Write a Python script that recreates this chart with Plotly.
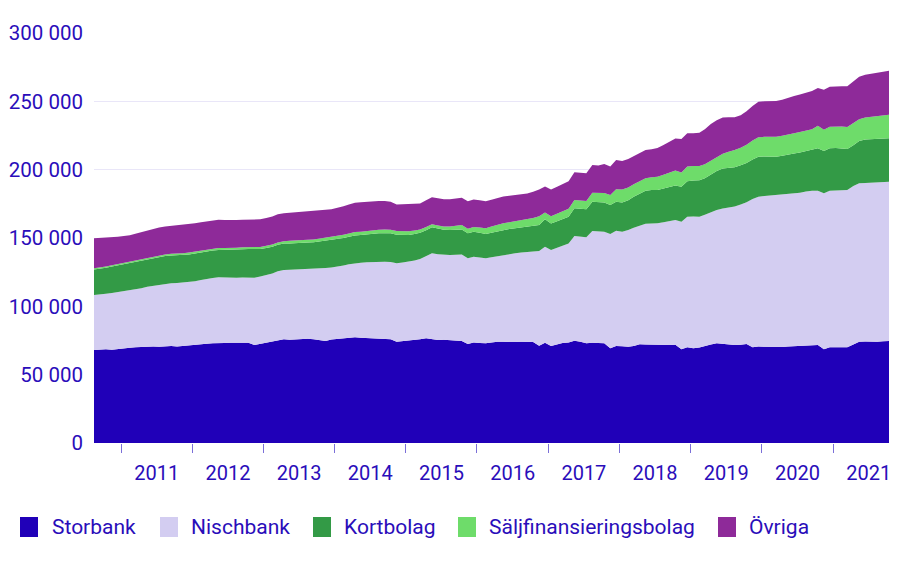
import plotly.graph_objects as go

# ---------------- data (thousands) ----------------
n_months = 135  # mid-month observations, Aug 2010 .. Oct 2021
dates = []
y, m = 2010, 8
for _ in range(n_months):
    dates.append(f"{y}-{m:02d}-15")
    m += 1
    if m > 12:
        m = 1
        y += 1

storbank = [
    68.0, 68.3, 68.6, 68.2, 68.8, 69.4, 69.7, 70.0, 70.3, 70.2, 70.6, 70.4,
    70.8, 71.0, 70.7, 71.0, 71.2, 71.8, 72.3, 72.6, 73.0, 72.8, 73.1, 73.3,
    73.2, 73.6, 73.4, 71.7, 72.6, 73.4, 74.0, 75.2, 75.9, 75.6, 75.8, 76.1,
    76.3, 75.9, 75.4, 74.6, 75.8, 76.2, 76.8, 77.2, 77.3, 77.0, 76.7, 76.4,
    76.2, 75.8, 75.9, 74.1, 74.5, 74.6, 75.2, 75.9, 76.6, 76.0, 75.4, 75.5,
    75.1, 74.9, 74.6, 72.4, 73.6, 73.2, 73.0, 73.6, 74.1, 74.0, 73.8, 73.9,
    74.0, 73.8, 73.9, 71.2, 73.4, 71.0, 72.3, 73.2, 73.6, 74.9, 74.0, 73.0,
    73.3, 73.2, 73.0, 69.3, 71.0, 70.8, 70.5, 71.0, 72.2, 72.0, 71.8, 71.7,
    71.9, 71.7, 71.8, 68.6, 70.0, 69.3, 69.8, 70.6, 72.0, 73.0, 72.4, 72.0,
    71.7, 71.8, 72.4, 70.0, 70.6, 70.4, 70.2, 70.0, 70.3, 70.6, 70.9, 71.0,
    71.2, 71.5, 71.7, 68.6, 70.0, 70.0, 69.9, 70.0, 72.0, 74.1, 74.3, 74.1,
    74.1, 74.4, 74.6,
]

nischbank = [
    40.3, 40.3, 40.6, 41.6, 41.7, 41.6, 41.7, 42.3, 42.9, 44.1, 44.4, 45.4,
    45.5, 45.8, 46.3, 46.3, 46.4, 46.6, 47.0, 47.6, 47.8, 48.4, 47.9, 47.5,
    47.7, 47.5, 47.8, 49.3, 49.2, 49.5, 50.1, 50.4, 50.7, 51.1, 51.1, 50.9,
    50.7, 51.2, 52.2, 53.4, 52.6, 52.8, 53.0, 53.6, 54.3, 54.9, 55.5, 56.1,
    56.5, 56.8, 56.5, 57.4, 57.5, 58.1, 58.4, 58.7, 60.0, 62.8, 62.8, 62.1,
    62.4, 62.8, 63.4, 62.7, 62.7, 62.6, 62.1, 62.4, 62.7, 63.6, 64.4, 64.9,
    65.4, 66.2, 66.3, 69.3, 70.2, 70.2, 70.5, 71.2, 72.4, 76.6, 77.0, 77.5,
    81.8, 81.6, 81.6, 83.6, 84.3, 83.8, 85.3, 86.5, 87.0, 88.5, 88.9, 89.1,
    89.7, 90.7, 91.4, 93.3, 95.6, 96.4, 95.8, 96.4, 96.8, 97.5, 99.1, 100.3,
    101.3, 102.7, 103.7, 108.5, 109.6, 110.4, 111.0, 111.5, 111.5, 111.6, 111.8, 112.2,
    112.8, 113.1, 112.9, 114.1, 114.6, 114.8, 115.1, 115.1, 116.0, 115.9, 116.0, 116.5,
    116.7, 116.6, 116.6,
]

kortbolag = [
    18.7, 18.8, 19.0, 19.3, 19.5, 19.8, 20.1, 20.2, 20.3, 20.1, 20.3, 20.4,
    20.5, 20.4, 20.3, 20.4, 20.4, 20.3, 20.2, 20.1, 20.0, 20.1, 20.3, 20.4,
    20.5, 20.6, 20.7, 20.7, 20.2, 19.8, 19.5, 19.4, 19.3, 19.3, 19.5, 19.6,
    19.7, 19.8, 19.9, 20.0, 20.0, 20.1, 20.2, 20.2, 20.3, 20.3, 20.5, 20.7,
    20.8, 20.9, 21.0, 20.8, 20.2, 19.5, 19.3, 19.2, 19.1, 19.0, 18.7, 18.4,
    18.3, 18.3, 18.3, 18.3, 18.2, 18.0, 17.8, 17.9, 18.1, 18.3, 18.3, 18.3,
    18.3, 18.3, 18.6, 19.0, 20.1, 19.5, 19.5, 19.5, 19.5, 20.3, 20.3, 20.5,
    21.5, 21.5, 21.3, 21.2, 21.3, 21.3, 21.8, 22.6, 23.4, 24.0, 24.4, 24.4,
    24.7, 25.0, 25.3, 25.6, 26.0, 26.3, 26.6, 26.8, 27.6, 28.5, 29.3, 29.0,
    28.8, 28.7, 28.8, 29.0, 29.3, 28.8, 28.4, 28.0, 28.4, 29.0, 29.2, 29.4,
    29.6, 29.8, 31.0, 31.0, 31.0, 31.0, 30.5, 30.0, 29.8, 31.0, 31.7, 31.7,
    31.7, 31.7, 31.7,
]

saljfin = [
    0.8, 0.8, 0.9, 0.9, 0.9, 1.0, 1.0, 1.0, 1.1, 1.1, 1.1, 1.1,
    1.2, 1.2, 1.2, 1.2, 1.3, 1.3, 1.3, 1.3, 1.4, 1.4, 1.4, 1.4,
    1.4, 1.5, 1.5, 1.5, 1.5, 1.6, 1.6, 1.7, 1.8, 1.9, 1.9, 2.0,
    2.0, 2.0, 2.1, 2.1, 2.2, 2.2, 2.3, 2.3, 2.4, 2.4, 2.5, 2.5,
    2.6, 2.7, 2.7, 2.8, 2.8, 2.7, 2.6, 2.5, 2.4, 2.3, 2.3, 2.4,
    2.6, 2.9, 3.2, 3.4, 3.6, 3.9, 4.2, 4.5, 4.8, 4.9, 5.0, 5.1,
    5.2, 5.3, 5.8, 6.4, 4.9, 5.2, 5.4, 5.5, 5.9, 6.0, 6.0, 6.1,
    6.5, 6.8, 7.1, 7.3, 9.0, 9.5, 9.4, 9.3, 9.3, 9.3, 9.4, 9.6,
    10.0, 10.4, 10.8, 10.5, 10.8, 10.7, 10.4, 10.2, 10.3, 10.5, 10.8, 11.8,
    12.5, 12.9, 13.3, 13.8, 14.2, 14.4, 14.5, 14.5, 14.6, 14.7, 14.8, 14.9,
    15.0, 15.1, 16.5, 15.5, 15.8, 15.9, 16.0, 16.2, 16.3, 15.9, 16.2, 16.5,
    16.8, 17.0, 17.3,
]

ovriga = [
    22.0, 21.8, 21.2, 20.6, 20.0, 19.6, 19.5, 19.6, 19.8, 20.0, 20.2, 20.4,
    20.5, 20.6, 20.6, 20.7, 20.7, 20.8, 20.8, 20.7, 20.7, 20.6, 20.5, 20.4,
    20.3, 20.2, 20.1, 20.0, 20.2, 20.3, 20.5, 20.6, 20.5, 20.5, 20.4, 20.5,
    20.5, 20.6, 20.6, 20.5, 20.5, 20.8, 21.0, 21.3, 21.5, 21.5, 21.3, 21.2,
    21.0, 20.8, 20.4, 19.5, 19.8, 19.8, 19.6, 19.0, 19.6, 19.8, 19.9, 20.0,
    20.0, 20.0, 20.0, 20.0, 20.0, 19.9, 19.8, 19.6, 19.5, 19.5, 19.4, 19.3,
    19.2, 19.0, 19.2, 19.5, 19.1, 19.5, 19.8, 20.0, 20.2, 20.3, 20.3, 20.2,
    20.3, 20.0, 21.2, 21.0, 21.5, 21.0, 20.8, 20.6, 20.5, 20.5, 20.5, 21.0,
    21.8, 22.6, 23.5, 24.4, 24.2, 24.0, 24.5, 25.5, 26.8, 26.6, 26.5, 25.2,
    24.0, 23.8, 24.5, 25.2, 26.0, 26.1, 26.2, 26.3, 26.4, 26.8, 27.2, 27.5,
    27.8, 28.0, 27.6, 29.3, 29.3, 29.4, 29.6, 29.8, 30.4, 31.0, 31.2, 31.5,
    31.8, 32.0, 32.2,
]

series_names = ["Storbank", "Nischbank", "Kortbolag", "Säljfinansieringsbolag", "Övriga"]
series_values = [storbank, nischbank, kortbolag, saljfin, ovriga]
series_colors = ["#2000B8", "#D3CDF1", "#339A46", "#6EDC6A", "#8E2A99"]

y_tick_vals = [0, 50, 100, 150, 200, 250, 300]
y_tick_text = ["0", "50 000", "100 000", "150 000", "200 000", "250 000", "300 000"]

TEXT = "#2A0DBA"
FONT = "Roboto"

fig = go.Figure()
for name, vals, col in zip(series_names, series_values, series_colors):
    fig.add_trace(go.Scatter(
        x=dates, y=vals, name=name, stackgroup="one", mode="lines",
        line=dict(width=0, color=col), fillcolor=col, showlegend=False,
        hoverinfo="skip",
    ))

# ---------------- layout ----------------
# the page body adds an 8px offset; size the figure so the plot lands where the reference has it
OFF = 8
W, H = 900 - OFF, 570 - OFF
ML, MR, MT, MB = 94 - OFF, 11, 33 - OFF, 127
PW, PH = W - ML - MR, H - MT - MB

def px_x(px):
    # screen pixel -> paper coordinate
    return (px - OFF - ML) / PW

def px_y(py):
    return (H - MB - (py - OFF)) / PH

fig.update_layout(
    width=W, height=H,
    margin=dict(l=ML, r=MR, t=MT, b=MB, pad=0, autoexpand=False),
    paper_bgcolor="white", plot_bgcolor="white",
    font=dict(family=FONT, size=20, color=TEXT),
    showlegend=False,
)
fig.update_xaxes(
    type="date", range=[dates[0], dates[-1]], automargin=False,
    tick0="2011-01-01", dtick="M12", tickformat="%Y", ticklabelmode="period",
    ticks="outside", ticklen=9, tickwidth=1, tickcolor="#7B6FD8",
    showgrid=False, zeroline=False, showline=False, ticklabelstandoff=3,
    tickfont=dict(family=FONT, size=20, color=TEXT),
)
fig.update_yaxes(
    range=[0, 300], tickvals=y_tick_vals, ticktext=y_tick_text, automargin=False,
    showgrid=True, gridcolor="#E9E6F8", gridwidth=1,
    zeroline=False, showline=False, ticks="", ticklabelstandoff=10,
    tickfont=dict(family=FONT, size=20.5, color=TEXT),
)

# ---------------- legend (drawn manually) ----------------
legend_square_x = [20, 160, 313, 458, 718]
legend_text_x = [50, 189, 342, 487, 747]
legend_y_top, legend_y_bot = 517, 537
legend_y_mid = (legend_y_top + legend_y_bot) / 2
for name, col, sx, tx in zip(series_names, series_colors, legend_square_x, legend_text_x):
    fig.add_shape(type="rect", xref="paper", yref="paper",
                  x0=px_x(sx), x1=px_x(sx + 18), y0=px_y(legend_y_bot), y1=px_y(legend_y_top),
                  fillcolor=col, line=dict(width=0))
    fig.add_annotation(xref="paper", yref="paper", x=px_x(tx), y=px_y(legend_y_mid),
                       text=name, showarrow=False, xanchor="left", yanchor="middle",
                       font=dict(family=FONT, size=21, color=TEXT))

fig.write_html("out.html")
